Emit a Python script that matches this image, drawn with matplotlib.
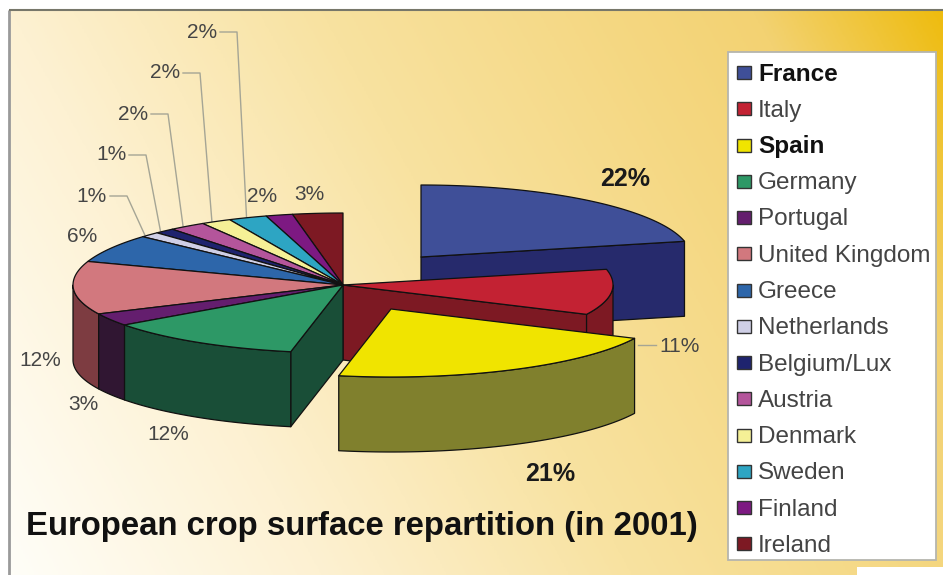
import numpy as np
import matplotlib
matplotlib.use("Agg")
import matplotlib.pyplot as plt
from matplotlib.patches import Polygon, Rectangle
from matplotlib.colors import LinearSegmentedColormap

# ---- data ----
countries = ["France", "Italy", "Spain", "Germany", "Portugal", "United Kingdom", "Greece",
             "Netherlands", "Belgium/Lux", "Austria", "Denmark", "Sweden", "Finland", "Ireland"]
shares = [21.5, 10.6, 21.0, 11.9, 3.0, 12.3, 6.4, 1.2, 1.2, 2.2, 1.8, 2.3, 1.6, 3.0]
emphasised = ["France", "Spain"]
title = "European crop surface repartition (in 2001)"

# ---- styles ----
top_colors = ["#3F4F98", "#C32233", "#F0E400", "#2D9866", "#641E6E", "#D2787E", "#2D66AA",
              "#CFCFE6", "#1E236E", "#B4559B", "#F5F096", "#2DA5C3", "#7D1982", "#7D1923"]
wall_colors = ["#262A6C", "#7D1923", "#80802D", "#194E37", "#301632", "#7D3C41", "#1E4470",
               "#8A8A9A", "#14184A", "#783968", "#A3A064", "#1E6E82", "#541057", "#54101A"]

plt.rcParams["font.family"] = ["Liberation Sans", "DejaVu Sans"]
fig = plt.figure(figsize=(9.43, 5.75), dpi=100, facecolor="white")
ax = fig.add_axes([0, 0, 1, 1])
ax.axis("off")

# background gradient
W, H = 943, 575
X0, Y0 = 9, 10
yy, xx = np.mgrid[0:1:300j, 0:1:500j]
t = 0.75 * xx + 0.25 * (1 - yy)
cmap = LinearSegmentedColormap.from_list("bg", [
    (0.0, "#FFFEF8"), (0.25, "#FDF1D2"), (0.5, "#F8E2A0"), (0.85, "#F3D272"), (1.0, "#EEBC0F")])
ax.imshow(t, cmap=cmap, vmin=0, vmax=1, extent=(X0, W, H, Y0), aspect="auto", zorder=0,
          interpolation="bilinear")
ax.set_xlim(0, W)
ax.set_ylim(H, 0)
ax.plot([X0, X0], [H, Y0], color="#9A9A9A", lw=2, zorder=1, solid_capstyle="butt")
ax.plot([X0, W], [Y0, Y0], color="#77776A", lw=1.5, zorder=1, solid_capstyle="butt")
ax.add_patch(Rectangle((857, 567), 86, 8, fc="white", ec="none", zorder=1))

# pie geometry
RX, RY_BACK, RY_FRONT, DEPTH = 270, 72, 68, 75
CENTER = (343, 285)
OFFSETS = {"France": (78, -28), "Spain": (48, 24)}
END_WALL = ["France", "Italy"]
START_WALL = ["Germany"]
bounds = np.concatenate([[0], np.cumsum(shares)]) / np.sum(shares) * 360.0
edge = dict(ec="#111111", lw=0.9, joinstyle="round")


def rim(theta, c):
    th = np.radians(np.atleast_1d(theta))
    cs = np.cos(th)
    ry = np.where(cs > 0, RY_BACK, RY_FRONT)
    return np.column_stack([c[0] + RX * np.sin(th), c[1] - ry * cs])


def arc(a, b, c):
    return rim(np.linspace(a, b, max(2, int(abs(b - a)) + 2)), c)


def radial_wall(ang, c, color, z):
    p = rim(ang, c)[0]
    ax.add_patch(Polygon([c, p, p + [0, DEPTH], (c[0], c[1] + DEPTH)], fc=color, zorder=z, **edge))


def draw_slice(name, z):
    i = countries.index(name)
    a, b = bounds[i], bounds[i + 1]
    dx, dy = OFFSETS.get(name, (0, 0))
    c = (CENTER[0] + dx, CENTER[1] + dy)
    if name in END_WALL:
        radial_wall(b, c, wall_colors[i], z)
    if name in START_WALL:
        radial_wall(a, c, wall_colors[i], z)
    fa, fb = max(a, 90), min(b, 270)
    if fb > fa:
        top = arc(fa, fb, c)
        ax.add_patch(Polygon(np.vstack([top, (top + [0, DEPTH])[::-1]]), fc=wall_colors[i], zorder=z, **edge))
    ax.add_patch(Polygon(np.vstack([[c], arc(a, b, c)]), fc=top_colors[i], zorder=z + 0.05, **edge))


draw_order = ["France", "Ireland", "Finland", "Sweden", "Denmark", "Austria", "Belgium/Lux", "Netherlands",
              "Greece", "United Kingdom", "Portugal", "Italy", "Germany", "Spain"]
for k, name in enumerate(draw_order):
    draw_slice(name, 3 + k * 0.1)

# percentage labels
label_pos = {"France": (625, 179), "Italy": (680, 346), "Spain": (550, 474), "Germany": (168, 435),
             "Portugal": (83, 404), "United Kingdom": (40, 361), "Greece": (82, 237),
             "Netherlands": (92, 196), "Belgium/Lux": (111, 155), "Austria": (133, 114),
             "Denmark": (165, 73), "Sweden": (202, 32), "Finland": (262, 196), "Ireland": (309, 194)}
for i, name in enumerate(countries):
    bold = name in emphasised
    ax.text(*label_pos[name], f"{round(shares[i])}%", ha="center", va="center", zorder=6,
            fontsize=18 if bold else 15, fontweight="bold" if bold else "normal",
            color="#1A1A1A" if bold else "#454545")

# leader lines
leader_shift = {"Netherlands": -5, "Belgium/Lux": -4, "Austria": -4, "Denmark": -4, "Sweden": -1}
for name, shift in leader_shift.items():
    i = countries.index(name)
    lx, ly = label_pos[name]
    end = rim((bounds[i] + bounds[i + 1]) / 2, CENTER)[0]
    ax.plot([lx + 18, lx + 35, end[0] + shift], [ly, ly, end[1]], color="#A5A595", lw=1, zorder=2.5)
ax.plot([638, 656], [345, 345], color="#A5A595", lw=1, zorder=2.5)

# title
ax.text(26, 527, title, fontsize=23.7, fontweight="bold", color="#111111", ha="left", va="center", zorder=6)

# legend
ax.add_patch(Rectangle((728, 52), 208, 508, fc="white", ec="#B5B5AE", lw=1.3, zorder=5))
row_top, row_step = 73, 36.25
for i, name in enumerate(countries):
    y = row_top + i * row_step
    ax.add_patch(Rectangle((736.5, y - 7), 14.5, 13, fc=top_colors[i], ec="#333333", lw=1, zorder=6))
    bold = name in emphasised
    ax.text(758, y + 1.5, name, fontsize=17.5, va="center", ha="left", zorder=6,
            fontweight="bold" if bold else "normal", color="#111111" if bold else "#444444")

fig.savefig("out.png", dpi=100)
